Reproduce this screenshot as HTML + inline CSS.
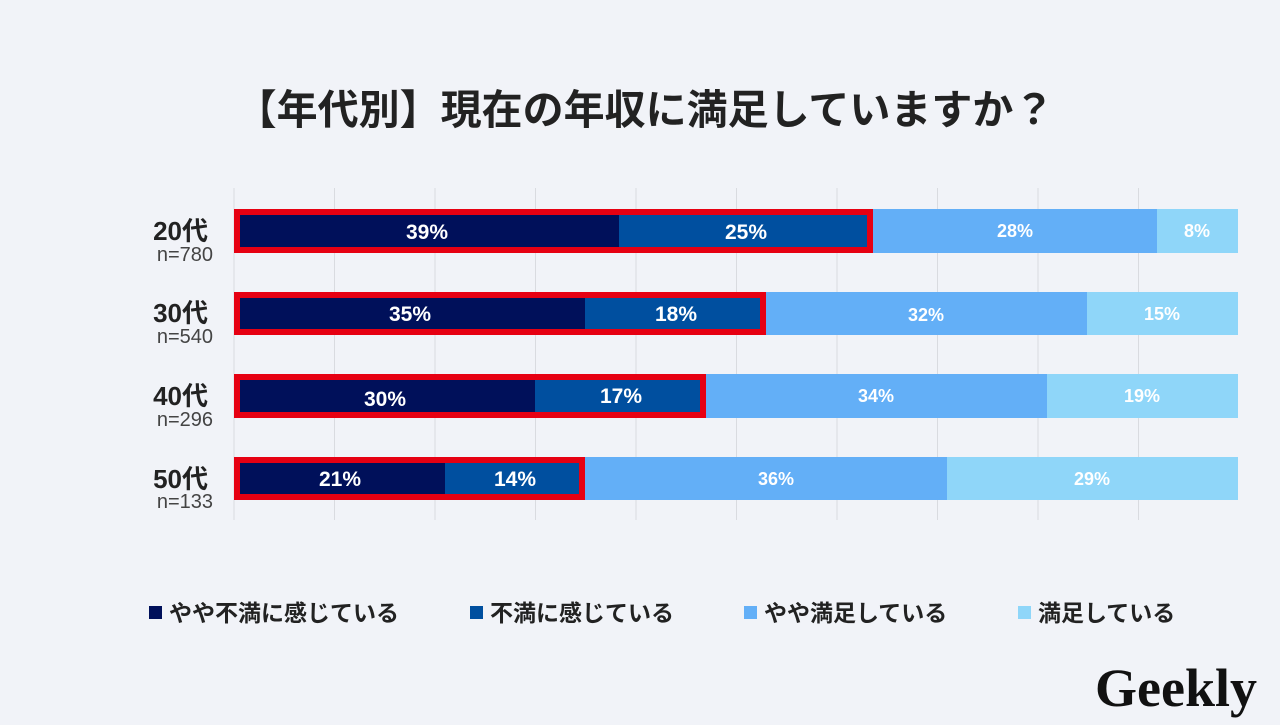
<!DOCTYPE html>
<html><head><meta charset="utf-8"><style>
body{margin:0;width:1280px;height:720px;background:#f1f3f8;font-family:"Liberation Sans","Noto Sans CJK JP",sans-serif;overflow:hidden}
</style></head><body>
<svg width="1280" height="720" xmlns="http://www.w3.org/2000/svg" style="font-family:'Liberation Sans','Noto Sans CJK JP',sans-serif">
<rect width="1280" height="720" fill="#f1f3f8"/>
<text x="645" y="124" text-anchor="middle" font-size="41" font-weight="bold" fill="#222">【年代別】現在の年収に満足していますか？</text>
<g stroke="#d9dbe0" stroke-width="1">
<line x1="234" y1="188" x2="234" y2="520"/><line x1="334.5" y1="188" x2="334.5" y2="520"/><line x1="435" y1="188" x2="435" y2="520"/><line x1="535.5" y1="188" x2="535.5" y2="520"/><line x1="636" y1="188" x2="636" y2="520"/><line x1="736.5" y1="188" x2="736.5" y2="520"/><line x1="837" y1="188" x2="837" y2="520"/><line x1="937.5" y1="188" x2="937.5" y2="520"/><line x1="1038" y1="188" x2="1038" y2="520"/><line x1="1138.5" y1="188" x2="1138.5" y2="520"/>
</g>
<rect x="234" y="209" width="385" height="44" fill="#00105a"/><rect x="619" y="209" width="253" height="44" fill="#004f9f"/><rect x="872" y="209" width="285" height="44" fill="#63aff7"/><rect x="1157" y="209" width="81" height="44" fill="#8fd6f9"/>
<rect x="237" y="212" width="633" height="38" fill="none" stroke="#e60012" stroke-width="6"/>
<rect x="234" y="292" width="351" height="43" fill="#00105a"/><rect x="585" y="292" width="180" height="43" fill="#004f9f"/><rect x="765" y="292" width="322" height="43" fill="#63aff7"/><rect x="1087" y="292" width="151" height="43" fill="#8fd6f9"/>
<rect x="237" y="295" width="526" height="37" fill="none" stroke="#e60012" stroke-width="6"/>
<rect x="234" y="374" width="301" height="44" fill="#00105a"/><rect x="535" y="374" width="171" height="44" fill="#004f9f"/><rect x="706" y="374" width="341" height="44" fill="#63aff7"/><rect x="1047" y="374" width="191" height="44" fill="#8fd6f9"/>
<rect x="237" y="377" width="466" height="38" fill="none" stroke="#e60012" stroke-width="6"/>
<rect x="234" y="457" width="211" height="43" fill="#00105a"/><rect x="445" y="457" width="139" height="43" fill="#004f9f"/><rect x="584" y="457" width="363" height="43" fill="#63aff7"/><rect x="947" y="457" width="291" height="43" fill="#8fd6f9"/>
<rect x="237" y="460" width="345" height="37" fill="none" stroke="#e60012" stroke-width="6"/>
<g fill="#fff" font-weight="bold" text-anchor="middle">
<g font-size="21"><text x="427" y="239">39%</text><text x="746" y="239">25%</text><text x="410" y="321">35%</text><text x="676" y="321">18%</text><text x="385" y="406">30%</text><text x="621" y="403">17%</text><text x="340" y="486">21%</text><text x="515" y="486">14%</text></g>
<g font-size="18"><text x="1015" y="237">28%</text><text x="1197" y="237">8%</text><text x="926" y="321">32%</text><text x="1162" y="320">15%</text><text x="876" y="402">34%</text><text x="1142" y="402">19%</text><text x="776" y="485">36%</text><text x="1092" y="485">29%</text></g>
</g>
<g text-anchor="end" fill="#222">
<g font-size="26" font-weight="bold"><text x="208" y="240">20代</text><text x="208" y="322">30代</text><text x="208" y="405">40代</text><text x="208" y="488">50代</text></g>
<g font-size="20" fill="#444"><text x="213" y="261">n=780</text><text x="213" y="343">n=540</text><text x="213" y="426">n=296</text><text x="213" y="508">n=133</text></g>
</g>
<g font-size="23" font-weight="bold" fill="#222">
<rect x="149" y="606" width="13" height="13" fill="#00105a"/><text x="169" y="621">やや不満に感じている</text>
<rect x="470" y="606" width="13" height="13" fill="#004f9f"/><text x="490" y="621">不満に感じている</text>
<rect x="744" y="606" width="13" height="13" fill="#63aff7"/><text x="764" y="621">やや満足している</text>
<rect x="1018" y="606" width="13" height="13" fill="#8fd6f9"/><text x="1038" y="621">満足している</text>
</g>
<text x="1095" y="706" font-family="'Liberation Serif',serif" font-size="54" font-weight="bold" fill="#111">Geekly</text>
</svg>
</body></html>
